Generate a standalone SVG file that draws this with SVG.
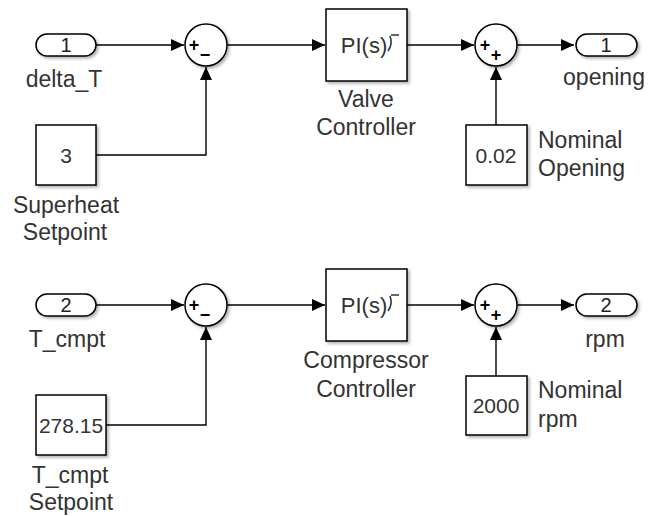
<svg xmlns="http://www.w3.org/2000/svg" width="649" height="516" viewBox="0 0 649 516">
<style>
.blk{fill:#fff;stroke:#000;stroke-width:1.5;filter:url(#sh)}
.wire{fill:none;stroke:#000;stroke-width:1.4;marker-end:url(#arr)}
.lbl{font-family:"Liberation Sans",Arial,sans-serif;font-size:23px;fill:#333;text-anchor:middle}
.lbll{font-family:"Liberation Sans",Arial,sans-serif;font-size:23px;fill:#333;text-anchor:start}
.val{font-family:"Liberation Sans",Arial,sans-serif;font-size:21px;fill:#333;text-anchor:middle}
.num{font-family:"Liberation Sans",Arial,sans-serif;font-size:20px;fill:#222;text-anchor:middle}
.pi{font-family:"Liberation Sans",Arial,sans-serif;font-size:22px;fill:#333;text-anchor:middle}
.sgn{font-family:"Liberation Sans",Arial,sans-serif;font-size:18px;font-weight:bold;fill:#000;text-anchor:middle}
</style>
<defs>
<filter id="sh" x="-20%" y="-20%" width="150%" height="150%">
<feDropShadow dx="2" dy="2" stdDeviation="1.8" flood-color="#000" flood-opacity="0.3"/>
</filter>
<marker id="arr" markerUnits="userSpaceOnUse" markerWidth="14" markerHeight="12" refX="13" refY="6" orient="auto">
<path d="M0,0 L13,6 L0,12 Z" fill="#000"/>
</marker>
</defs>
<g id="connectors">
<path class="wire" d="M96,45 H184"/>
<path class="wire" d="M96,155 H206 V67"/>
<path class="wire" d="M227,45 H325"/>
<path class="wire" d="M407,45 H474"/>
<path class="wire" d="M496,125 V67"/>
<path class="wire" d="M517,45 H574"/>
<path class="wire" d="M96,305 H184"/>
<path class="wire" d="M106,425 H206 V327"/>
<path class="wire" d="M227,305 H325"/>
<path class="wire" d="M407,305 H474"/>
<path class="wire" d="M496,376 V327"/>
<path class="wire" d="M517,305 H574"/>
</g>
<g id="in1">
<rect class="blk" x="36" y="34" width="60" height="22" rx="11"/>
<text class="num" x="66" y="52">1</text>
<text class="lbl" x="64" y="87">delta_T</text>
</g>
<g id="superheat">
<rect class="blk" x="36" y="125" width="60" height="60"/>
<text class="val" x="66" y="163">3</text>
<text class="lbl" x="66" y="213">Superheat</text>
<text class="lbl" x="65" y="240">Setpoint</text>
</g>
<g id="sum1">
<circle class="blk" cx="206" cy="45" r="21"/>
<text class="sgn" x="194" y="51">+</text>
<text class="sgn" x="205" y="61">−</text>
</g>
<g id="valve">
<rect class="blk" x="326" y="9" width="81" height="72"/>
<text class="pi" x="364" y="53">PI(s)</text>
<path d="M388,51 Q393,44 390,36 M391,35 H399" fill="none" stroke="#333" stroke-width="1.6"/>
<text class="lbl" x="366" y="107">Valve</text>
<text class="lbl" x="366" y="135">Controller</text>
</g>
<g id="sum2">
<circle class="blk" cx="496" cy="45" r="21"/>
<text class="sgn" x="485" y="51">+</text>
<text class="sgn" x="496" y="61">+</text>
</g>
<g id="nomopen">
<rect class="blk" x="466" y="125" width="61" height="60"/>
<text class="val" x="496" y="163">0.02</text>
<text class="lbll" x="538" y="148">Nominal</text>
<text class="lbll" x="538" y="176">Opening</text>
</g>
<g id="out1">
<rect class="blk" x="576" y="34" width="61" height="22" rx="11"/>
<text class="num" x="606" y="52">1</text>
<text class="lbl" x="604" y="85">opening</text>
</g>
<g id="in2">
<rect class="blk" x="36" y="294" width="60" height="22" rx="11"/>
<text class="num" x="66" y="312">2</text>
<text class="lbl" x="67" y="347">T_cmpt</text>
</g>
<g id="tsetpoint">
<rect class="blk" x="36" y="395" width="70" height="60"/>
<text class="val" x="71" y="433">278.15</text>
<text class="lbl" x="70" y="483">T_cmpt</text>
<text class="lbl" x="71" y="510">Setpoint</text>
</g>
<g id="sum3">
<circle class="blk" cx="206" cy="305" r="21"/>
<text class="sgn" x="194" y="311">+</text>
<text class="sgn" x="205" y="321">−</text>
</g>
<g id="compressor">
<rect class="blk" x="326" y="269" width="81" height="72"/>
<text class="pi" x="364" y="313">PI(s)</text>
<path d="M388,311 Q393,304 390,296 M391,295 H399" fill="none" stroke="#333" stroke-width="1.6"/>
<text class="lbl" x="366" y="368">Compressor</text>
<text class="lbl" x="366" y="397">Controller</text>
</g>
<g id="sum4">
<circle class="blk" cx="496" cy="305" r="21"/>
<text class="sgn" x="485" y="311">+</text>
<text class="sgn" x="496" y="321">+</text>
</g>
<g id="nomrpm">
<rect class="blk" x="466" y="376" width="61" height="59"/>
<text class="val" x="496" y="413">2000</text>
<text class="lbll" x="538" y="398">Nominal</text>
<text class="lbll" x="538" y="427">rpm</text>
</g>
<g id="out2">
<rect class="blk" x="576" y="294" width="61" height="22" rx="11"/>
<text class="num" x="606" y="312">2</text>
<text class="lbl" x="605" y="347">rpm</text>
</g>
</svg>
